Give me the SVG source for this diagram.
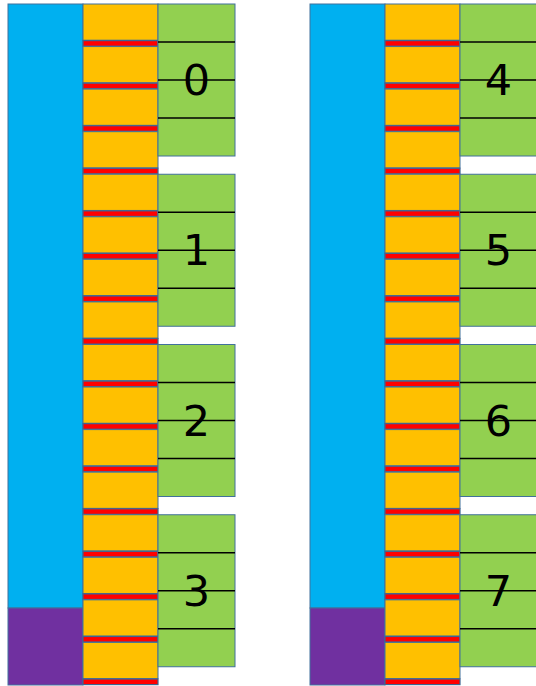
<svg xmlns="http://www.w3.org/2000/svg" xmlns:xlink="http://www.w3.org/1999/xlink" width="536" height="686" viewBox="0 0 536 686">
<style>
.blue{fill:#00B0F0;stroke:#41719C;stroke-width:1}
.purple{fill:#7030A0;stroke:#41719C;stroke-width:1}
.orange{fill:#FFC000;stroke:#41719C;stroke-width:1}
.red{fill:#FF0000;stroke:#3D6591;stroke-width:1.2}
.green{fill:#92D050;stroke:#41719C;stroke-width:1}
.div{stroke:#000;stroke-width:1.6;fill:none}
.num{font-family:"DejaVu Sans","Liberation Sans",sans-serif;font-size:43px;fill:#000;text-anchor:middle}
</style>
<defs>
<g id="cell">
<rect class="orange" x="83" y="0" width="75" height="36.2"/>
<rect class="red" x="83" y="36.6" width="75" height="5.6"/>
</g>
<g id="stack">
<use xlink:href="#cell" y="4"/>
<use xlink:href="#cell" y="46.56"/>
<use xlink:href="#cell" y="89.12"/>
<use xlink:href="#cell" y="131.68"/>
<use xlink:href="#cell" y="174.24"/>
<use xlink:href="#cell" y="216.8"/>
<use xlink:href="#cell" y="259.36"/>
<use xlink:href="#cell" y="301.92"/>
<use xlink:href="#cell" y="344.48"/>
<use xlink:href="#cell" y="387.04"/>
<use xlink:href="#cell" y="429.6"/>
<use xlink:href="#cell" y="472.16"/>
<use xlink:href="#cell" y="514.72"/>
<use xlink:href="#cell" y="557.28"/>
<use xlink:href="#cell" y="599.84"/>
<use xlink:href="#cell" y="642.4"/>
</g>
</defs>

<g id="left-column">
<g id="left-bar"><rect class="blue" x="8" y="4" width="75" height="604"/></g>
<g id="left-base"><rect class="purple" x="8" y="608" width="75" height="77"/></g>
<g id="left-stack"><use xlink:href="#stack"/></g>
<g id="block-0"><rect class="green" x="158" y="4" width="77" height="152"/><text class="num" x="196.5" y="95">0</text><path class="div" d="M158 42H235M158 80H235M158 118H235"/></g>
<g id="block-1"><rect class="green" x="158" y="174.25" width="77" height="152"/><text class="num" x="196.5" y="265.25">1</text><path class="div" d="M158 212.25H235M158 250.25H235M158 288.25H235"/></g>
<g id="block-2"><rect class="green" x="158" y="344.5" width="77" height="152"/><text class="num" x="196.5" y="435.5">2</text><path class="div" d="M158 382.5H235M158 420.5H235M158 458.5H235"/></g>
<g id="block-3"><rect class="green" x="158" y="514.75" width="77" height="152"/><text class="num" x="196.5" y="605.75">3</text><path class="div" d="M158 552.75H235M158 590.75H235M158 628.75H235"/></g>
</g>

<g id="right-column" transform="translate(302,0)">
<g id="right-bar"><rect class="blue" x="8" y="4" width="75" height="604"/></g>
<g id="right-base"><rect class="purple" x="8" y="608" width="75" height="77"/></g>
<g id="right-stack"><use xlink:href="#stack"/></g>
<g id="block-4"><rect class="green" x="158" y="4" width="77" height="152"/><text class="num" x="196.5" y="95">4</text><path class="div" d="M158 42H235M158 80H235M158 118H235"/></g>
<g id="block-5"><rect class="green" x="158" y="174.25" width="77" height="152"/><text class="num" x="196.5" y="265.25">5</text><path class="div" d="M158 212.25H235M158 250.25H235M158 288.25H235"/></g>
<g id="block-6"><rect class="green" x="158" y="344.5" width="77" height="152"/><text class="num" x="196.5" y="435.5">6</text><path class="div" d="M158 382.5H235M158 420.5H235M158 458.5H235"/></g>
<g id="block-7"><rect class="green" x="158" y="514.75" width="77" height="152"/><text class="num" x="196.5" y="605.75">7</text><path class="div" d="M158 552.75H235M158 590.75H235M158 628.75H235"/></g>
</g>
<g id="connectors"/>
</svg>
